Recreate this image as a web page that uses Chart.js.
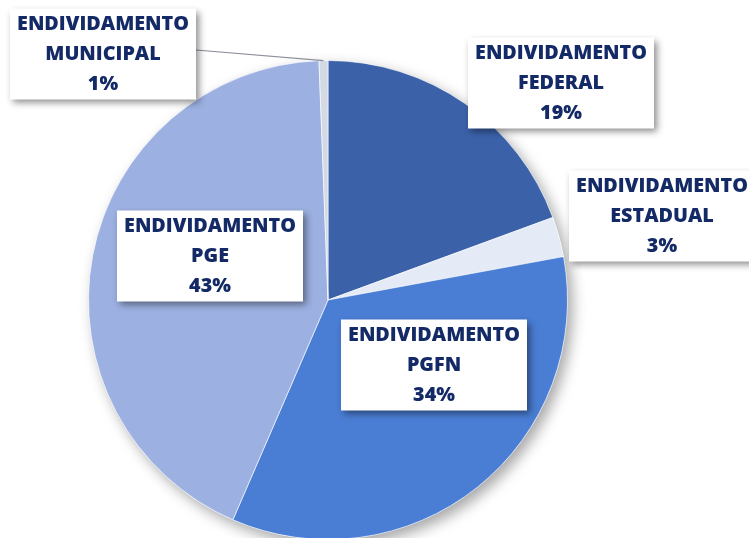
<!DOCTYPE html>
<html>
<head>
<meta charset="utf-8">
<script src="https://cdn.jsdelivr.net/npm/chart.js@4"></script>
<style>
  html, body { margin: 0; padding: 0; background: #fff; overflow: hidden; }
  #wrap { width: 749px; height: 545px; }
</style>
</head>
<body>
<div id="wrap"><canvas id="pie"></canvas></div>
<script>
// Data (clockwise from 12 o'clock), in percent
const categories = ['FEDERAL', 'ESTADUAL', 'PGFN', 'PGE', 'MUNICIPAL'];
const shares = [19.4, 2.7, 34.4, 42.9, 0.6];
const sliceColors = ['#3b61a8', '#e4eaf6', '#4a7dd4', '#9cb0e1', '#d3d9e5'];

// Where each label box sits (box centre, px) - placed by hand like Excel did
const boxCentres = [[561, 83], [662, 216], [434, 365], [210, 256], [103, 54]];
const boxW = 186, boxH = 91;

// Draws a shadowed disc behind the slices
const pieShadow = {
  id: 'pieShadow',
  beforeDatasetsDraw(chart) {
    const arc = chart.getDatasetMeta(0).data[0];
    if (!arc) return;
    const ctx = chart.ctx;
    ctx.save();
    ctx.shadowColor = 'rgba(0,0,0,0.35)';
    ctx.shadowBlur = 14;
    ctx.shadowOffsetX = 5;
    ctx.shadowOffsetY = 6;
    ctx.fillStyle = '#fff';
    ctx.beginPath();
    ctx.arc(arc.x, arc.y, arc.outerRadius, 0, Math.PI * 2);
    ctx.fill();
    ctx.restore();
  }
};

// Boxed labels with a leader line for the tiny slice
const boxLabels = {
  id: 'boxLabels',
  afterDraw(chart) {
    const ctx = chart.ctx;
    const meta = chart.getDatasetMeta(0);
    const face = '800 20px "Open Sans", sans-serif';

    // size the font so the long word fills ~172px like Calibri did
    ctx.save();
    ctx.font = face;
    const fs = 20 * 172 / ctx.measureText('ENDIVIDAMENTO').width;
    ctx.restore();

    meta.data.forEach((arc, i) => {
      const [cx, cy] = boxCentres[i];
      const left = cx - boxW / 2, top = cy - boxH / 2;

      // leader line for the tiny slice
      if (shares[i] < 2) {
        const mid = (arc.startAngle + arc.endAngle) / 2;
        ctx.save();
        ctx.strokeStyle = '#8a8f99';
        ctx.lineWidth = 1.2;
        ctx.beginPath();
        ctx.moveTo(left + boxW, cy - 4);
        ctx.lineTo(arc.x + Math.cos(mid) * arc.outerRadius, arc.y + Math.sin(mid) * arc.outerRadius);
        ctx.stroke();
        ctx.restore();
      }

      ctx.save();
      ctx.shadowColor = 'rgba(0,0,0,0.45)';
      ctx.shadowBlur = 7;
      ctx.shadowOffsetX = 3;
      ctx.shadowOffsetY = 3;
      ctx.fillStyle = '#fff';
      ctx.fillRect(left, top, boxW, boxH);
      ctx.restore();

      ctx.save();
      ctx.fillStyle = '#132a66';
      ctx.font = face.replace('20px', fs.toFixed(2) + 'px');
      ctx.textAlign = 'center';
      ctx.textBaseline = 'middle';
      const lines = ['ENDIVIDAMENTO', categories[i], Math.round(shares[i]) + '%'];
      lines.forEach((t, k) => ctx.fillText(t, cx, cy - 30 + k * 30));
      ctx.restore();
    });
  }
};

new Chart(document.getElementById('pie'), {
  type: 'pie',
  data: {
    labels: categories,
    datasets: [{
      data: shares,
      backgroundColor: sliceColors,
      borderColor: 'rgba(255,255,255,0.6)',
      borderWidth: 1
    }]
  },
  options: {
    responsive: true,
    maintainAspectRatio: false,
    animation: false,
    layout: { padding: { top: 60, bottom: 5, left: 88, right: 181 } },
    plugins: {
      legend: { display: false },
      tooltip: { enabled: false }
    }
  },
  plugins: [pieShadow, boxLabels]
});
</script>
</body>
</html>
